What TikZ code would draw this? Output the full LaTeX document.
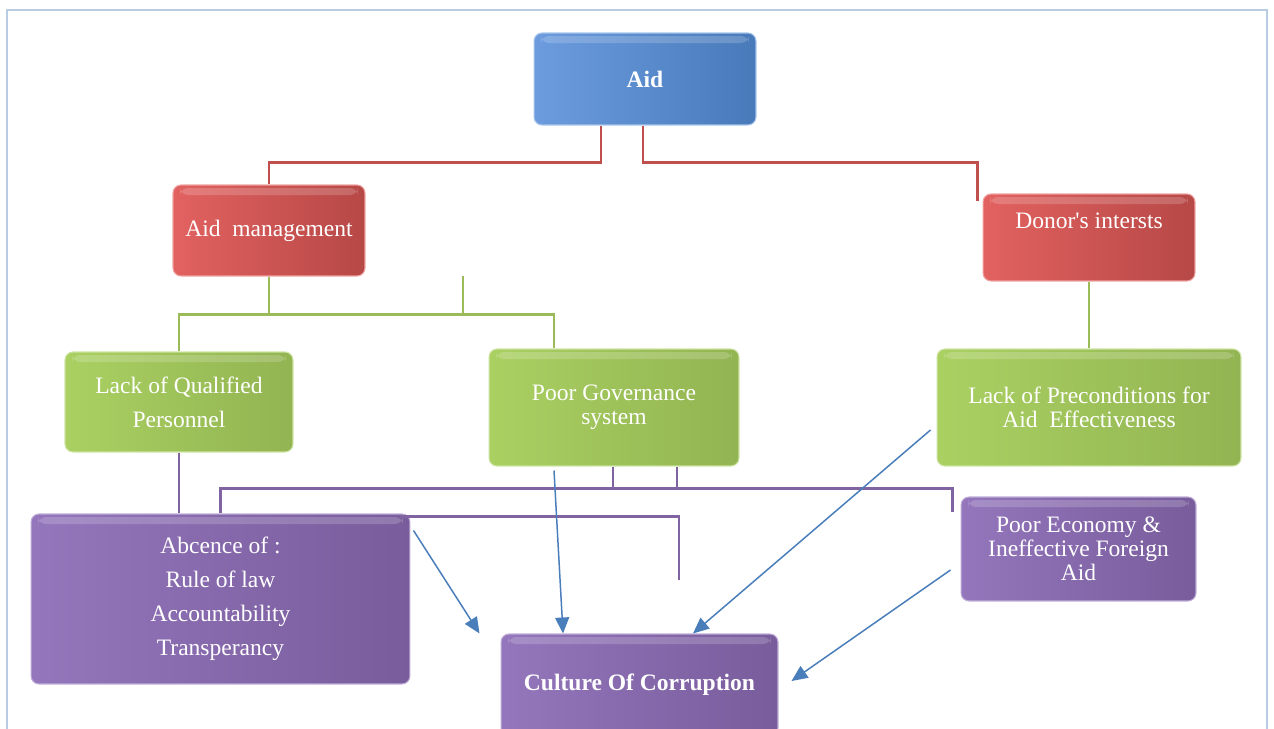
\documentclass[tikz,border=0pt]{standalone}
\usepackage{fontspec}
\setmainfont{Liberation Serif}
\usetikzlibrary{arrows.meta,positioning}

\definecolor{blueL}{RGB}{108,156,222}
\definecolor{blueR}{RGB}{72,122,186}
\definecolor{redL}{RGB}{226,98,96}
\definecolor{redR}{RGB}{182,72,70}
\definecolor{greenL}{RGB}{170,208,98}
\definecolor{greenR}{RGB}{146,180,82}
\definecolor{purpleL}{RGB}{148,118,188}
\definecolor{purpleR}{RGB}{120,92,155}
\definecolor{redlink}{RGB}{192,80,77}
\definecolor{greenlink}{RGB}{155,187,89}
\definecolor{purplelink}{RGB}{128,100,162}
\definecolor{arrowblue}{RGB}{74,126,187}
\definecolor{framecol}{RGB}{184,204,228}

\begin{document}
\begin{tikzpicture}[
  x=0.02cm, y=-0.02cm,
  box/.style={rectangle, rounded corners=0.16cm, line width=0.6pt, align=center, text=white, inner sep=0pt, font=\fontsize{13.4pt}{19.3pt}\selectfont,
    path picture={\fill[white, opacity=0.18] ([xshift=0.14cm,yshift=-0.06cm]path picture bounding box.north west) rectangle ([xshift=-0.14cm,yshift=-0.2cm]path picture bounding box.north east);}},
  bluebox/.style={box, left color=blueL, right color=blueR, draw=blueL!60!white},
  redbox/.style={box, left color=redL, right color=redR, draw=redL!60!white},
  greenbox/.style={box, left color=greenL, right color=greenR, draw=greenL!60!white},
  purplebox/.style={box, left color=purpleL, right color=purpleR, draw=purpleL!60!white},
  bold/.style={font=\fontsize{13.4pt}{16pt}\selectfont\bfseries},
  tight/.style={font=\fontsize{13.4pt}{13.8pt}\selectfont},
  link/.style={line width=1.6pt, #1},
  arrow/.style={-{Triangle[length=3.2mm,width=2.8mm]}, line width=0.85pt, arrowblue}
]
\useasboundingbox (0,0) rectangle (1274,729);
\clip (0,0) rectangle (1274,729);
\draw[framecol, line width=0.9pt] (7,740) |- (1267,10) -- (1267,740);

% top levels
\node[bluebox, bold, minimum width=4.44cm, minimum height=1.84cm] (aid) at (645,79) {Aid};
\node[redbox, minimum width=3.84cm, minimum height=1.82cm] (aidmgmt) at (269,230.5) {Aid~ management};
\node[redbox, minimum width=4.24cm, minimum height=1.74cm, text height=0.35cm, text depth=0.69cm] (donor) at (1089,237.5) {Donor\textquotesingle s intersts};

% causes
\node[greenbox, minimum width=4.56cm, minimum height=2.0cm] (lackqual) at (179,402) {Lack of Qualified\\Personnel};
\node[greenbox, tight, minimum width=5.0cm, minimum height=2.34cm] (poorgov) at (614,407.5) {Poor Governance\\system};
\node[greenbox, tight, minimum width=6.08cm, minimum height=2.34cm] (lackpre) at (1089,407.5) {Lack of Preconditions for\\Aid~ Effectiveness};

% effects
\node[purplebox, minimum width=7.58cm, minimum height=3.4cm] (abs) at (220.5,599) {Abcence of :\\Rule of law\\Accountability\\Transperancy};
\node[purplebox, tight, minimum width=4.7cm, minimum height=2.08cm] (poorecon) at (1078.5,549) {Poor Economy \&\\Ineffective Foreign\\Aid};
\node[purplebox, bold, minimum width=5.54cm, minimum height=2.04cm] (culture) at (639.5,685) {Culture Of Corruption};

% red links
\draw[link=redlink] ([xshift=-0.88cm]aid.south) -- ++(0,37) -| (aidmgmt.north);
\draw[link=redlink] ([xshift=-0.04cm]aid.south) -- ++(0,37) -| ([xshift=-0.1cm,yshift=-0.16cm]donor.north west);

% green links
\coordinate (gstub) at (463,276);
\draw[link=greenlink] (lackqual.north) -- ++(0,-37) -| ([xshift=-1.2cm]poorgov.north);
\draw[link=greenlink] (aidmgmt.south) -- ++(0,39);
\draw[link=greenlink] (gstub) -- ++(0,39);
\draw[link=greenlink] (donor.south) -- (lackpre.north);

% purple links
\coordinate (pdrop) at (679,580);
\draw[link=purplelink] (lackqual.south) -- (lackqual.south |- abs.north);
\draw[link=purplelink] (abs.north) -- ++(0,-25) -| ([xshift=-0.16cm,yshift=-0.32cm]poorecon.north west);
\draw[link=purplelink] ([xshift=-0.02cm]poorgov.south) -- ++(0,23);
\draw[link=purplelink] ([xshift=1.26cm]poorgov.south) -- ++(0,23);
\draw[link=purplelink] ([xshift=-0.2cm,yshift=-0.06cm]abs.north east) -| (pdrop);

% arrows
\draw[arrow] ([xshift=0.06cm,yshift=-0.34cm]abs.north east) -- ([xshift=-0.42cm]culture.north west);
\draw[arrow] ([xshift=-1.2cm,yshift=-0.08cm]poorgov.south) -- ([xshift=-1.53cm]culture.north);
\draw[arrow] ([xshift=-0.12cm,yshift=-0.45cm]lackpre.west) -- ([xshift=1.07cm]culture.north);
\draw[arrow] ([xshift=-0.2cm,yshift=-0.42cm]poorecon.west) -- ([xshift=0.26cm,yshift=0.08cm]culture.east);
\end{tikzpicture}
\end{document}
